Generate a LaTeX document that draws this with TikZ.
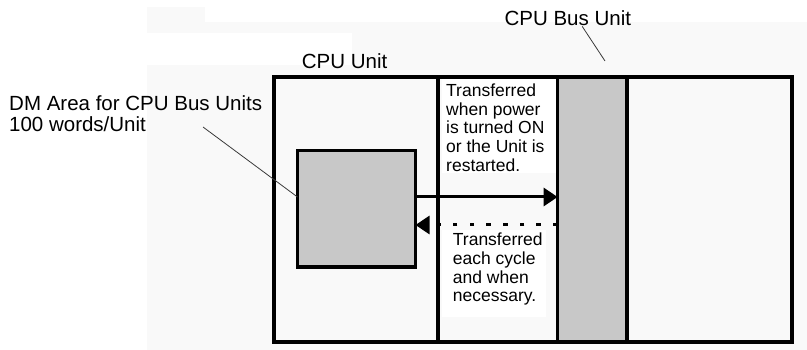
\documentclass[tikz,border=0pt]{standalone}
\usepackage{fontspec}
\setmainfont{Liberation Sans}
\usetikzlibrary{arrows.meta}
\definecolor{bgA}{HTML}{F9F9F9}
\definecolor{unitgray}{HTML}{C8C8C8}
\definecolor{leadc}{HTML}{3A3A3A}
\begin{document}
\begin{tikzpicture}[x=1pt,y=-1pt,
  frame/.style={draw=black, line width=3.5pt, inner sep=0pt, outer sep=0pt},
  biglabel/.style={font=\fontsize{20.5}{21.5}\selectfont, inner sep=0pt, anchor=base west},
  note/.style={font=\fontsize{17.5}{18.7}\selectfont, inner sep=0pt, align=left, anchor=north west},
  leader/.style={draw=leadc, line width=0.8pt},
  flow/.style={line width=3pt, -{Triangle[length=14pt,width=18pt]}},
  ]
\useasboundingbox (0,0) rectangle (807,350);
% background
\fill[white] (0,0) rectangle (807,350);
\fill[bgA] (146.7,7.3) rectangle (807,350);
\fill[white] (205,7.3) rectangle (807,22);
\fill[white] (146.7,33) rectangle (352,65);
% CPU unit outline
\node[frame, fill=bgA, minimum width=518pt, minimum height=265pt] (cpu) at (533,209.5) {};
% white text backgrounds
\fill[white] (441.5,79.5) rectangle (555.5,173);
\fill[white] (442,230) rectangle (546,317);
% divider
\coordinate (divx) at (438,0);
\draw[line width=3.5pt] (divx |- cpu.north) -- (divx |- cpu.south);
% CPU bus unit strip
\node[frame, fill=unitgray, minimum width=69.3pt, minimum height=265pt] (bus) at (592.3,209.5) {};
% DM area box
\node[frame, fill=unitgray, minimum width=118pt, minimum height=116.5pt] (dm) at (356.5,208.8) {};
% arrows
\draw[flow] ([yshift=11.8pt]dm.east) -- ([yshift=12.5pt]bus.west);
\draw[flow, dash pattern=on 4.5pt off 12.2pt] ([yshift=-15.5pt]bus.west) -- ([yshift=-16.2pt]dm.east);
% labels
\node[biglabel] (buslbl) at (504.4,26) {CPU Bus Unit};
\node[biglabel] (cpulbl) at (301.7,68.5) {CPU Unit};
\node[note, font=\fontsize{20.5}{21.5}\selectfont] (dmlbl) at (9,95.3) {DM Area for CPU Bus Units\\100 words/Unit};
\node[note] (note1) at (446,83.6) {Transferred\\when power\\is turned ON\\or the Unit is\\restarted.};
\node[note] (note2) at (452.7,232.9) {Transferred\\each cycle\\and when\\necessary.};
% leaders
\coordinate (busend) at (605,61);
\draw[leader] ([xshift=14.4pt]buslbl.south) -- (busend);
\coordinate (dmlead) at (203,127);
\draw[leader] (dmlead) -- ([yshift=11.8pt]dm.west);
\end{tikzpicture}
\end{document}
